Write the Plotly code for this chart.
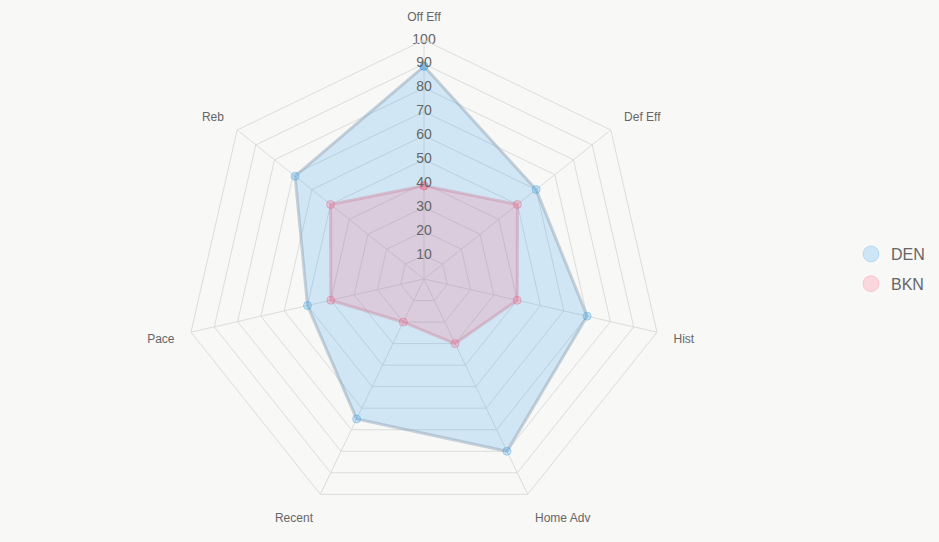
import plotly.graph_objects as go

categories = ["Off Eff", "Def Eff", "Hist", "Home Adv", "Recent", "Pace", "Reb"]
den_values = [89, 60, 70, 80, 65, 50, 69]
bkn_values = [39, 50, 40, 30, 20, 40, 50]
radial_ticks = [10, 20, 30, 40, 50, 60, 70, 80, 90, 100]
radial_tick_labels = [str(v) for v in radial_ticks]

BG = "#f8f8f7"
GRID = "#dcdcdc"
TEXT = "#666666"

W, H = 939, 542
cx, cy, R = 424, 279, 239

def closed(vals):
    return list(vals) + [vals[0]]

fig = go.Figure()

series = [
    ("DEN", den_values, "rgba(54,162,235,0.2)", "rgba(140,160,178,0.45)",
     "rgba(54,162,235,0.25)", "rgba(54,162,235,0.4)", "rgba(54,162,235,0.22)"),
    ("BKN", bkn_values, "rgba(255,99,132,0.2)", "rgba(205,140,165,0.45)",
     "rgba(255,99,132,0.25)", "rgba(215,100,140,0.4)", "rgba(255,99,132,0.22)"),
]

for name, vals, fillc, linec, mfill, mline, legc in series:
    fig.add_trace(go.Scatterpolar(
        r=closed(vals), theta=closed(categories), name=name,
        mode="lines+markers", fill="toself", fillcolor=fillc,
        line=dict(color=linec, width=3),
        marker=dict(size=8, color=mfill, line=dict(color=mline, width=1)),
        showlegend=False, hoverinfo="skip",
    ))

# radial tick labels, centred on the first spoke
fig.add_trace(go.Scatterpolar(
    r=radial_ticks, theta=[categories[0]] * len(radial_ticks),
    mode="text", text=radial_tick_labels,
    textfont=dict(family="Liberation Sans, Arial", size=14, color=TEXT),
    textposition="middle center", showlegend=False, hoverinfo="skip",
))

# legend entries
for name, vals, fillc, linec, mfill, mline, legc in series:
    fig.add_trace(go.Scatterpolar(
        r=[None], theta=[categories[0]], name=name, mode="markers",
        legendgroup=name,
        marker=dict(size=16, color=legc, line=dict(color=mfill, width=1)),
        showlegend=True, hoverinfo="skip",
    ))

fig.update_layout(
    width=W, height=H,
    paper_bgcolor=BG, plot_bgcolor=BG,
    margin=dict(l=0, r=0, t=0, b=0),
    font=dict(family="Liberation Sans, Arial", color=TEXT),
    showlegend=True,
    legend=dict(x=851 / W, y=1 - 269 / H, yanchor="middle", xanchor="left",
                font=dict(size=16, color=TEXT), bgcolor="rgba(0,0,0,0)",
                tracegroupgap=6),
    polar=dict(
        domain=dict(x=[(cx - R) / W, (cx + R) / W],
                    y=[1 - (cy + R) / H, 1 - (cy - R) / H]),
        bgcolor="rgba(0,0,0,0)",
        gridshape="linear",
        radialaxis=dict(range=[0, 100], dtick=10, showticklabels=False,
                        showline=False, ticks="", gridcolor=GRID, gridwidth=1),
        angularaxis=dict(type="category", categoryarray=categories,
                         rotation=90, direction="clockwise",
                         gridcolor=GRID, linecolor=GRID, linewidth=1,
                         ticks="outside", ticklen=14, tickcolor="rgba(0,0,0,0)",
                         tickfont=dict(size=12, color=TEXT)),
    ),
)

fig.write_html("out.html")
